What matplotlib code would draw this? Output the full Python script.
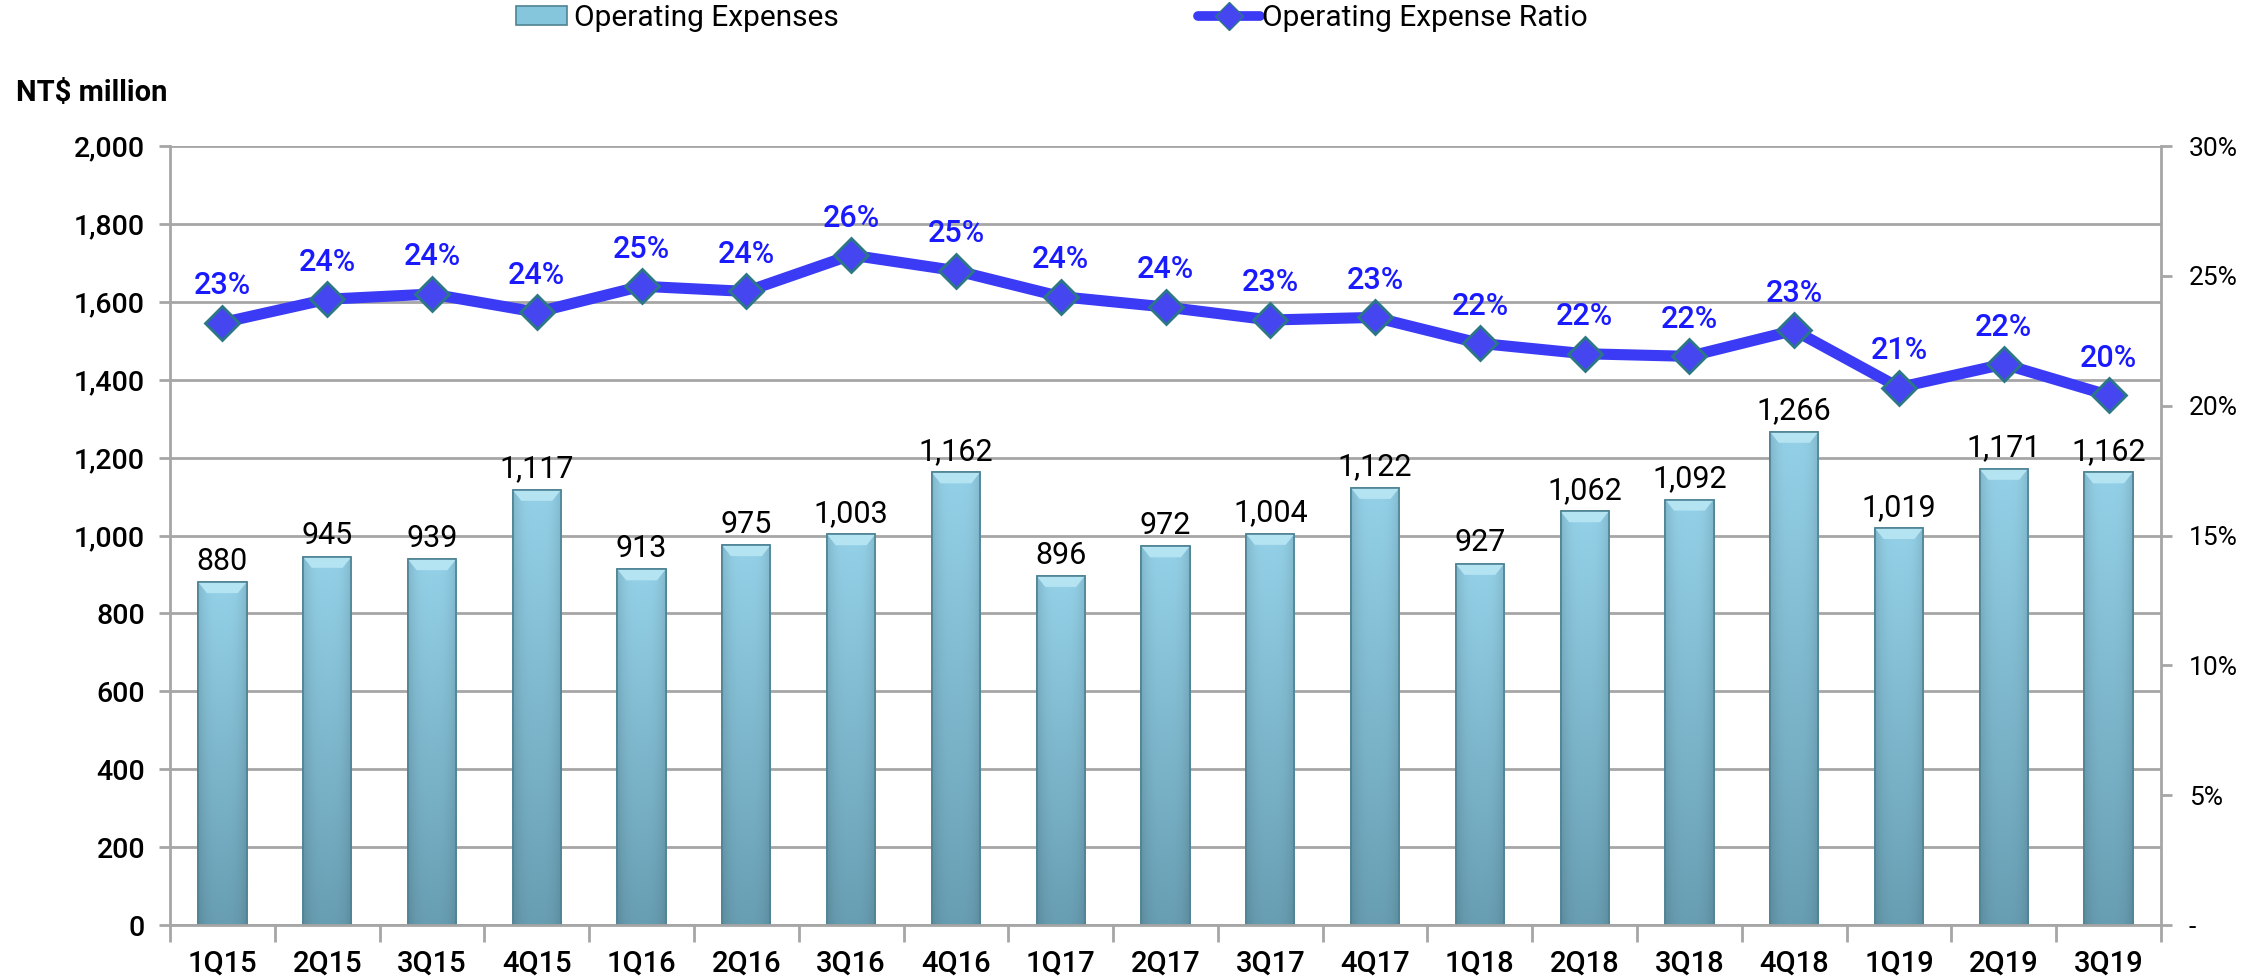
import matplotlib
matplotlib.use("Agg")
import matplotlib.pyplot as plt
import numpy as np
from matplotlib.lines import Line2D
from matplotlib.patches import Patch
from matplotlib.ticker import FixedLocator, FuncFormatter

plt.rcParams['font.family'] = ['Roboto', 'DejaVu Sans']

quarters = ['1Q15', '2Q15', '3Q15', '4Q15', '1Q16', '2Q16', '3Q16', '4Q16',
            '1Q17', '2Q17', '3Q17', '4Q17', '1Q18', '2Q18', '3Q18', '4Q18',
            '1Q19', '2Q19', '3Q19']
opex = [880, 945, 939, 1117, 913, 975, 1003, 1162, 896, 972, 1004, 1122,
        927, 1062, 1092, 1266, 1019, 1171, 1162]
ratio = [23.2, 24.1, 24.3, 23.6, 24.6, 24.4, 25.8, 25.2, 24.2, 23.8, 23.3, 23.4,
         22.4, 22.0, 21.9, 22.9, 20.7, 21.6, 20.4]
ratio_labels = ['23%', '24%', '24%', '24%', '25%', '24%', '26%', '25%', '24%', '24%',
                '23%', '23%', '22%', '22%', '22%', '23%', '21%', '22%', '20%']

grid_col = '#a6a6a6'
line_col = '#3b3bf5'

fig = plt.figure(figsize=(22.64, 9.8), dpi=100)
ax = fig.add_axes([0.0751, 0.0561, 0.8794, 0.7949])
x = np.arange(len(quarters))

# bars with a vertical gradient
bars = ax.bar(x, opex, width=0.46, color='#7fbcd2', edgecolor='#4f8394',
              linewidth=1.2, zorder=2)
top = np.array([0.58, 0.82, 0.91])
bot = np.array([0.41, 0.62, 0.70])
t = np.linspace(0, 1, 100)[:, None]
h = np.linspace(-1, 1, 40)[None, :]
shade = 1 - 0.12 * np.abs(h) ** 3
grad = (top[None, None, :] * (1 - t[..., None]) + bot[None, None, :] * t[..., None]) * shade[..., None]
for b in bars:
    x0, w, hgt = b.get_x(), b.get_width(), b.get_height()
    im = ax.imshow(grad, extent=[x0, x0 + w, 0, hgt], aspect='auto', zorder=2.1,
                   interpolation='bilinear')
    im.set_clip_path(b)
    # light bevel at the top
    bev = 28
    ax.fill([x0, x0 + w, x0 + w * 0.82, x0 + w * 0.18],
            [hgt, hgt, hgt - bev, hgt - bev], color='#b4e3f2', zorder=2.2, lw=0)
    ax.plot([x0, x0 + w, x0 + w, x0, x0], [0, 0, hgt, hgt, 0], color='#4f8394',
            lw=1.2, zorder=2.3)
    ax.text(x0 + w / 2, hgt + 32, f'{int(hgt):,}', ha='center', va='baseline',
            fontsize=22, color='black', zorder=3)

ax.set_xlim(-0.5, len(quarters) - 0.5)
ax.set_ylim(0, 2000)
ax.set_yticks(np.arange(0, 2001, 200))
ax.yaxis.set_major_formatter(FuncFormatter(lambda v, p: f'{int(v):,}'))
ax.grid(axis='y', color=grid_col, lw=2, zorder=0)
ax.set_axisbelow(True)
ax.set_xticks(x)
ax.set_xticklabels(quarters, fontsize=21, fontweight='medium')
ax.xaxis.set_minor_locator(FixedLocator(np.arange(-0.5, len(quarters), 1)))
ax.tick_params(axis='x', which='major', length=0, pad=18)
ax.tick_params(axis='x', which='minor', length=12, width=2, color=grid_col)
ax.tick_params(axis='y', length=8, width=2, color=grid_col, labelsize=20.5, pad=10)
for lab in ax.get_yticklabels():
    lab.set_fontweight('medium')
for s in ['left', 'right', 'bottom']:
    ax.spines[s].set_color(grid_col)
    ax.spines[s].set_linewidth(2)
ax.spines['top'].set_visible(False)

# ratio line on right axis
ax2 = ax.twinx()
ax2.plot(x, ratio, color=line_col, lw=8, marker='D', markersize=17,
         markerfacecolor='#4646f0', markeredgecolor='#2b7785', markeredgewidth=2,
         zorder=5, solid_joinstyle='miter')
for xi, r, lab in zip(x, ratio, ratio_labels):
    ax2.text(xi, r + 1.1, lab, ha='center', va='baseline', fontsize=22,
             fontweight='medium', color='#1a1aff', zorder=6)
ax2.set_ylim(0, 30)
ax2.set_yticks(np.arange(0, 31, 5))
ax2.yaxis.set_major_formatter(FuncFormatter(lambda v, p: '-' if v == 0 else f'{int(v)}%'))
ax2.tick_params(axis='y', length=8, width=2, color=grid_col, labelsize=19, pad=12)
for s in ['left', 'right', 'bottom', 'top']:
    ax2.spines[s].set_visible(False)

fig.text(16 / 2264, 1 - 93 / 980, 'NT$ million', fontsize=21, fontweight='bold',
         va='center', ha='left')

# legends
h1 = Patch(facecolor='#86c6dc', edgecolor='#4f8394', lw=1.2)
h2 = Line2D([], [], color=line_col, lw=7, marker='D', markersize=14,
            markerfacecolor='#4646f0', markeredgecolor='#2b7785', solid_capstyle='round')
for hd, lab, xpos, hl, tp in [(h1, 'Operating Expenses', 516 / 2264, 1.7, 0.23),
                              (h2, 'Operating Expense Ratio', 1198 / 2264, 2.07, 0.07)]:
    fig.legend([hd], [lab], loc='center left', bbox_to_anchor=(xpos, 1 - 18 / 980),
               frameon=False, fontsize=21.5, borderpad=0, borderaxespad=0,
               handlelength=hl, handleheight=0.57, handletextpad=tp)

fig.savefig('out.png', dpi=100)
